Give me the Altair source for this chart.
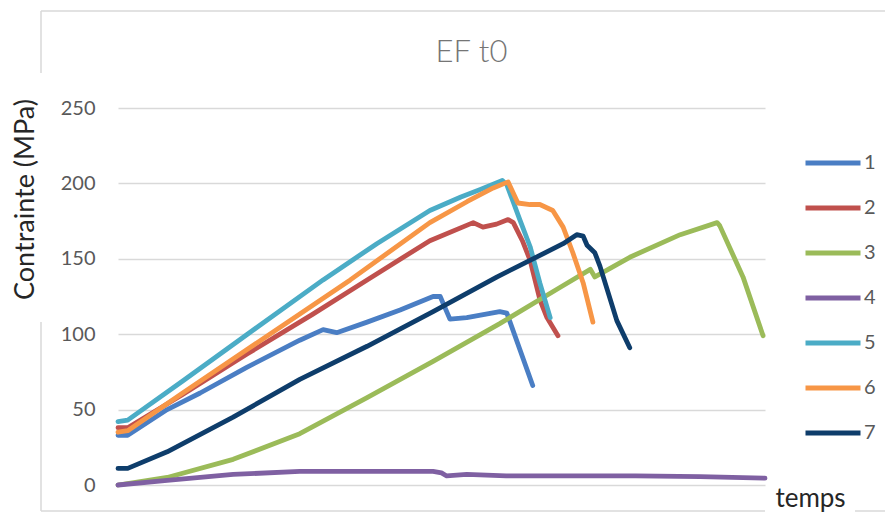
import altair as alt
import pandas as pd

# ---- data (time in arbitrary units 0-100, stress in MPa) ----
series_names = ["1", "2", "3", "4", "5", "6", "7"]
series_colors = ["#4A7EC4", "#C0504D", "#9BBB59", "#7F60A2", "#4BACC6", "#F79646", "#0E3D6B"]

s1_t = [0, 1.5, 7.6, 12.7, 19.9, 28.1, 31.7, 33.8, 38.5, 43.6, 48.7, 49.8, 51.3, 53.9, 59.0, 60.1, 64.1]
s1_v = [33, 33, 50, 61, 78, 96, 103, 101, 108, 116, 125, 125, 110, 111, 115, 114, 66]

s2_t = [0, 1.5, 10, 20, 30, 38.5, 48.2, 54.9, 56.4, 58.5, 60.3, 61.1, 62.5, 63.7, 65.2, 66.3, 68.0]
s2_v = [38, 38, 60, 87, 113, 136, 162, 174, 171, 173, 176, 174, 162, 149, 123, 111, 99]

s3_t = [0, 7.6, 17.8, 28.1, 38.5, 48.7, 59.0, 68.3, 73.0, 73.7, 79.1, 86.9, 92.6, 93.0, 96.6, 99.7]
s3_v = [0, 5, 17, 34, 58, 82, 107, 131, 143, 138, 151, 166, 174, 172, 138, 99]

s4_t = [0, 7.6, 17.8, 28.1, 38.5, 48.7, 50.0, 50.8, 53.9, 60, 70, 80, 90, 100]
s4_v = [0, 3, 7, 9, 9, 9, 8, 6, 7, 6, 6, 6, 5.5, 4.5]

s5_t = [0, 1.5, 10, 20, 31.7, 40, 48.2, 53, 56, 59.4, 60.1, 62.1, 63.7, 65.2, 66.8]
s5_v = [42, 43, 69, 100, 136, 160, 182, 191, 196, 202, 199, 176, 158, 134, 111]

s6_t = [0, 1.5, 10, 20, 35.9, 48.2, 54, 58, 60.3, 61.8, 63.7, 65.2, 67.2, 68.8, 70.3, 71.9, 73.4]
s6_v = [35, 36, 61, 90, 136, 174, 188, 197, 201, 187, 186, 186, 182, 171, 154, 134, 108]

s7_t = [0, 1.5, 7.6, 17.8, 28.1, 38.5, 48.7, 58.6, 68.8, 70.9, 71.9, 72.5, 73.7, 74.5, 77.1, 79.1]
s7_v = [11, 11, 22, 45, 70, 92, 115, 138, 160, 166, 165, 159, 154, 145, 109, 91]

y_ticks = [0, 50, 100, 150, 200, 250]

all_t = [s1_t, s2_t, s3_t, s4_t, s5_t, s6_t, s7_t]
all_v = [s1_v, s2_v, s3_v, s4_v, s5_v, s6_v, s7_v]

rows = []
for name, ts, vs in zip(series_names, all_t, all_v):
    for i, (t, v) in enumerate(zip(ts, vs)):
        rows.append({"serie": name, "temps": t, "contrainte": v, "i": i})
df = pd.DataFrame(rows)

FONT = "Lato"
GRID = "#D9D9D9"

lines = alt.Chart(df).mark_line(strokeWidth=4.8, strokeCap="round", strokeJoin="round").encode(
    x=alt.X("temps:Q",
            scale=alt.Scale(domain=[0, 100], nice=False, zero=False),
            axis=alt.Axis(title="temps", labels=False, ticks=False, domain=False, grid=False,
                          titleX=692, titleY=21, titleAlign="center", titleBaseline="alphabetic",
                          titleFontSize=26, titleColor="#262626", titleFont=FONT,
                          titleFontWeight="normal")),
    y=alt.Y("contrainte:Q",
            scale=alt.Scale(domain=[0, 250], nice=False),
            axis=alt.Axis(title="Contrainte (MPa)", values=y_ticks, ticks=False, tickSize=0,
                          domain=False, labelPadding=23, labelFontSize=20, labelColor="#595959",
                          labelFont=FONT, gridColor=GRID, gridWidth=1.5,
                          titleX=-93, titleY=91, titleAngle=270, titleAlign="center",
                          titleBaseline="middle", titleFontSize=27, titleColor="#262626",
                          titleFont=FONT, titleFontWeight="normal")),
    color=alt.Color("serie:N",
                    scale=alt.Scale(domain=series_names, range=series_colors),
                    legend=alt.Legend(title=None, orient="none", legendX=685, legendY=25,
                                      symbolType="stroke", symbolSize=3025, symbolStrokeWidth=5,
                                      labelFontSize=20, labelColor="#595959", labelFont=FONT,
                                      rowPadding=5, padding=0, labelOffset=1)),
    order="i:Q",
)

frame_df = pd.DataFrame({"a": [0]})


def frame_rule(x1, x2, y1, y2):
    return alt.Chart(frame_df).mark_rule(color=GRID, strokeWidth=1.5).encode(
        x=alt.value(x1), x2=alt.value(x2), y=alt.value(y1), y2=alt.value(y2))


frame = [
    frame_rule(-77, 790, -97, -97),
    frame_rule(-77, -77, -97, -35),
    frame_rule(-77, -77, 214, 403),
    frame_rule(-77, 647, 403, 403),
    frame_rule(737, 790, 403, 403),
]

chart = alt.layer(*frame, lines).properties(
    width=647,
    height=377,
    padding={"left": 110, "top": 100, "right": 120, "bottom": 27},
    autosize=alt.AutoSizeParams(type="none"),
    title=alt.TitleParams("EF t0", fontSize=31, color="#757575", font=FONT, fontWeight=300,
                          anchor="middle", frame="group", dx=30, offset=0, dy=83,
                          baseline="alphabetic"),
).configure_view(stroke=None)

chart.save("out.html", embed_options={"renderer": "svg", "actions": False})
